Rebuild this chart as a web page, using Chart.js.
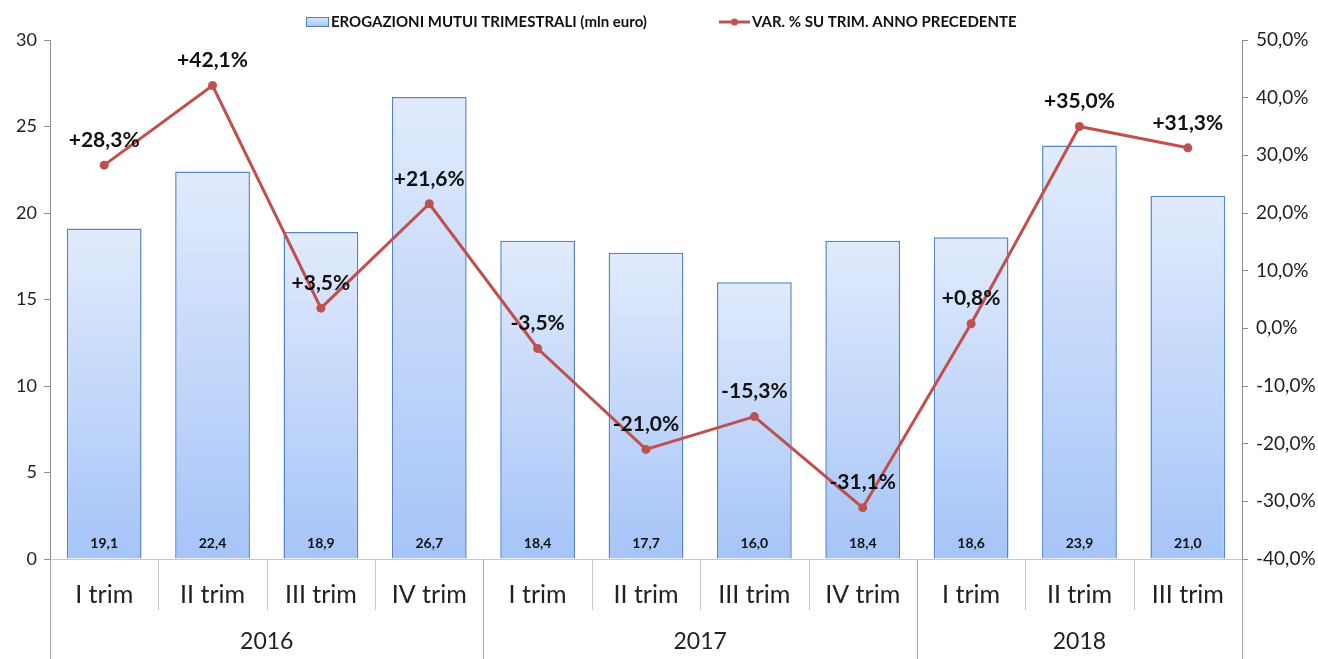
<!DOCTYPE html>
<html>
<head>
<meta charset="utf-8">
<script src="https://cdn.jsdelivr.net/npm/chart.js@4/dist/chart.umd.min.js"></script>
<style>
  body { margin: 0; background: #fff; }
  #wrap { width: 1318px; height: 659px; position: relative; }
</style>
</head>
<body>
<div id="wrap"><canvas id="chartMutui"></canvas></div>
<script>
// dati
const trimestri = ['I trim', 'II trim', 'III trim', 'IV trim', 'I trim', 'II trim', 'III trim', 'IV trim', 'I trim', 'II trim', 'III trim'];
const anni = ['2016', '2017', '2018'];
const trimPerAnno = [4, 4, 3];
const erogazioni = [19.1, 22.4, 18.9, 26.7, 18.4, 17.7, 16.0, 18.4, 18.6, 23.9, 21.0];
const variazioni = [28.3, 42.1, 3.5, 21.6, -3.5, -21.0, -15.3, -31.1, 0.8, 35.0, 31.3];

const FONT = 'Lato, "Open Sans", sans-serif';
const AXIS_GREY = '#8c8c8c';
const SEP_GREY = '#c8c8c8';
const RED = '#c0504d';

const virgola = (v, d) => v.toFixed(d).replace('.', ',');

// gradiente per ogni barra (chiaro in alto, piu' blu in basso)
function barGradient(context) {
    const chart = context.chart;
    const { ctx, chartArea, scales } = chart;
    if (!chartArea || !scales.y) return '#c5d9fa';
    const v = context.raw;
    const top = scales.y.getPixelForValue(v);
    const base = scales.y.getPixelForValue(0);
    const g = ctx.createLinearGradient(0, top, 0, base);
    g.addColorStop(0, '#e1ebfc');
    g.addColorStop(1, '#a6c4f8');
    return g;
}

// etichette, legenda e asse a due livelli
const extras = {
    id: 'extras',
    afterDatasetsDraw(chart) {
        const { ctx, scales } = chart;
        const x = scales.x, y = scales.y, y1 = scales.y1;
        ctx.save();

        // valori barre
        ctx.font = 'bold 14px ' + FONT;
        ctx.fillStyle = '#111';
        ctx.textAlign = 'center';
        ctx.textBaseline = 'middle';
        erogazioni.forEach((v, i) => {
            ctx.fillText(virgola(v, 1), x.getPixelForValue(i), y.getPixelForValue(0) - 16);
        });

        // valori linea
        ctx.font = 'bold 21px ' + FONT;
        variazioni.forEach((v, i) => {
            const txt = (v > 0 ? '+' : '') + virgola(v, 1) + '%';
            ctx.fillText(txt, x.getPixelForValue(i), y1.getPixelForValue(v) - 25);
        });

        // separatori categorie e anni
        const base = y.getPixelForValue(0);
        const half = (x.getPixelForValue(1) - x.getPixelForValue(0)) / 2;
        ctx.lineWidth = 1;
        let start = 0;
        const yearEdges = [0];
        trimPerAnno.forEach(n => { start += n; yearEdges.push(start); });
        for (let i = 0; i <= trimestri.length; i++) {
            const px = Math.round(x.getPixelForValue(i) - half) + 0.5;
            const isYear = yearEdges.includes(i);
            ctx.strokeStyle = isYear ? '#a6a6a6' : SEP_GREY;
            ctx.beginPath();
            ctx.moveTo(px, base);
            ctx.lineTo(px, isYear ? chart.height : base + 51);
            ctx.stroke();
        }
        ctx.font = '23px ' + FONT;
        ctx.fillStyle = '#222';
        anni.forEach((a, k) => {
            const a0 = x.getPixelForValue(yearEdges[k]) - half;
            const a1 = x.getPixelForValue(yearEdges[k + 1]) - half;
            ctx.fillText(a, (a0 + a1) / 2, base + 83);
        });

        // legenda
        ctx.font = 'bold 15px ' + FONT;
        ctx.textAlign = 'left';
        const g = ctx.createLinearGradient(0, 16, 0, 27);
        g.addColorStop(0, '#e1ebfc');
        g.addColorStop(1, '#a6c4f8');
        ctx.fillStyle = g;
        ctx.fillRect(306, 17, 22, 9);
        ctx.strokeStyle = '#4f81bd';
        ctx.strokeRect(306.5, 17.5, 22, 9);
        ctx.fillStyle = '#111';
        ctx.fillText('EROGAZIONI MUTUI TRIMESTRALI (mln euro)', 331, 22);
        ctx.strokeStyle = RED;
        ctx.lineWidth = 3;
        ctx.beginPath();
        ctx.moveTo(719, 22);
        ctx.lineTo(750, 22);
        ctx.stroke();
        ctx.fillStyle = RED;
        ctx.beginPath();
        ctx.arc(734.5, 22, 3.5, 0, Math.PI * 2);
        ctx.fill();
        ctx.fillStyle = '#111';
        ctx.fillText('VAR. % SU TRIM. ANNO PRECEDENTE', 752, 22);

        ctx.restore();
    }
};

new Chart(document.getElementById('chartMutui'), {
    type: 'bar',
    data: {
        labels: trimestri,
        datasets: [
            {
                type: 'line',
                label: 'VAR. % SU TRIM. ANNO PRECEDENTE',
                data: variazioni,
                yAxisID: 'y1',
                borderColor: RED,
                backgroundColor: RED,
                borderWidth: 3,
                pointRadius: 4.5,
                pointBackgroundColor: RED,
                pointBorderWidth: 0,
                tension: 0,
                order: 0
            },
            {
                label: 'EROGAZIONI MUTUI TRIMESTRALI (mln euro)',
                data: erogazioni,
                yAxisID: 'y',
                backgroundColor: barGradient,
                borderColor: '#5585c6',
                borderWidth: 1.5,
                categoryPercentage: 1,
                barPercentage: 0.69,
                order: 1
            }
        ]
    },
    options: {
        responsive: true,
        maintainAspectRatio: false,
        animation: false,
        layout: { padding: { top: 40, right: 0, left: 0, bottom: 0 } },
        plugins: {
            legend: { display: false },
            tooltip: { enabled: false }
        },
        scales: {
            x: {
                grid: { display: false },
                border: { color: SEP_GREY },
                ticks: { color: '#222', font: { family: FONT, size: 25 }, padding: 13 },
                afterFit: (s) => { s.height = 100; }
            },
            y: {
                position: 'left',
                min: 0, max: 30,
                border: { color: AXIS_GREY },
                grid: { drawOnChartArea: false, tickLength: 6, color: AXIS_GREY },
                ticks: { stepSize: 5, color: '#222', font: { family: FONT, size: 18 }, padding: 7 },
                afterFit: (s) => { s.width = 50; }
            },
            y1: {
                position: 'right',
                min: -40, max: 50,
                border: { color: AXIS_GREY },
                grid: { drawOnChartArea: false, tickLength: 6, color: AXIS_GREY },
                ticks: {
                    stepSize: 10, color: '#222', font: { family: FONT, size: 19 }, padding: 8,
                    callback: (v) => virgola(v, 1) + '%'
                },
                afterFit: (s) => { s.width = 76; }
            }
        }
    },
    plugins: [extras]
});
</script>
</body>
</html>
